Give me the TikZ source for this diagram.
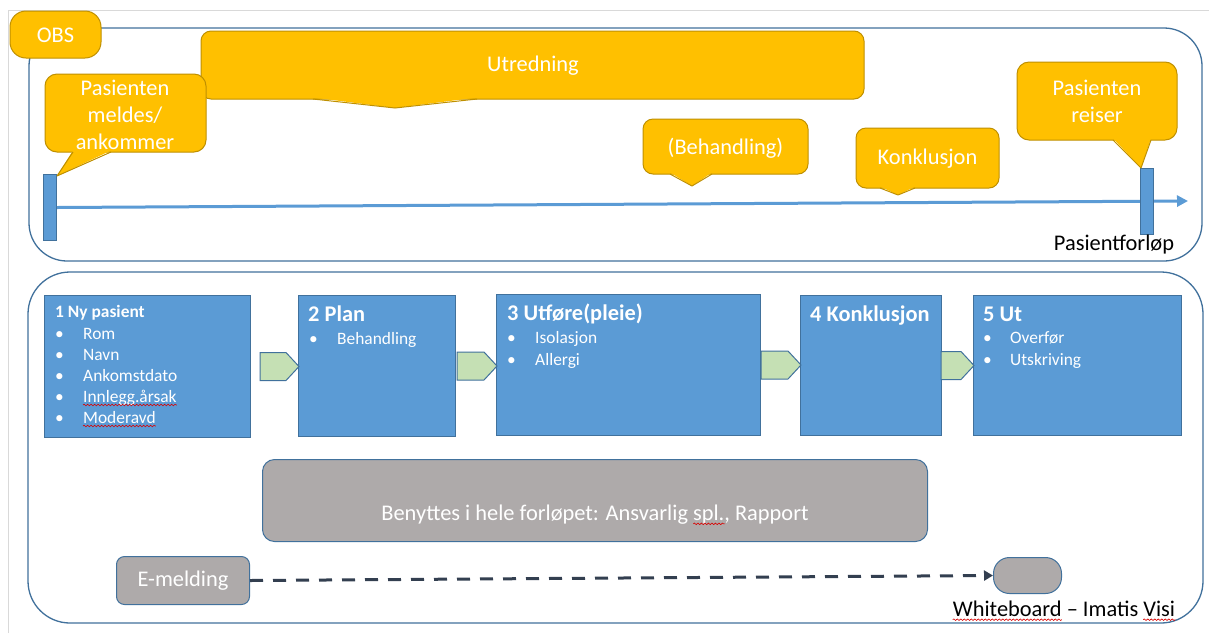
\documentclass[tikz,border=0pt]{standalone}
\usepackage{fontspec}
\setmainfont{Carlito}
\usetikzlibrary{arrows.meta,decorations.pathmorphing,calc}

\definecolor{gold}{HTML}{FFC000}
\definecolor{goldline}{HTML}{BF9000}
\definecolor{stepblue}{HTML}{5B9BD5}
\definecolor{stepline}{HTML}{41719C}
\definecolor{flowgreen}{HTML}{C5E0B4}
\definecolor{panelgray}{HTML}{AEAAAA}
\definecolor{darknavy}{HTML}{333F50}
\definecolor{framegray}{HTML}{D9D9D9}

\newcommand\bigtext{\fontsize{22.4}{27}\selectfont}
\newcommand\smalltext{\fontsize{17.4}{21}\selectfont}

% speech balloon: box corners (x1,y1)-(x2,y2), pointer base from bl to br on the
% bottom edge, pointer tip at (tx,ty)
\newcommand\balloon[9][10pt]{%
  \draw[balloon, rounded corners=#1] (#2,#3) rectangle (#4,#5);
  \fill[gold] (#6,#5-1.5) -- (#7,#5-1.5) -- (#8,#9) -- cycle;
  \draw[balloon edge] (#6,#5) -- (#8,#9) -- (#7,#5);
}

% block arrow between two process steps
\newcommand\flowarrow[3]{%
  \draw[flowarrow] let \p1=(#1.east), \p2=(#2.west) in
    (\x1+#3,\y1+14pt) -- (\x2-12pt,\y1+14pt) -- (\x2+1pt,\y1) --
    (\x2-12pt,\y1-14pt) -- (\x1+#3,\y1-14pt) -- cycle;
}

\begin{document}
\begin{tikzpicture}[x=1pt,y=-1pt,
  panel/.style={draw=stepline, line width=1.3pt, rounded corners=38pt},
  balloon/.style={fill=gold, draw=goldline, line width=1pt},
  balloon edge/.style={draw=goldline, line width=1pt, line join=round},
  balloontext/.style={text=white, font=\bigtext, align=center, inner sep=0pt},
  stepbox/.style={fill=stepblue, draw=stepline, line width=1pt, inner sep=0pt, anchor=north west},
  steptitle/.style={anchor=base west, inner sep=0pt, text=white, font=\bigtext\bfseries},
  smalltitle/.style={anchor=base west, inner sep=0pt, text=white, font=\smalltext\bfseries},
  stepitem/.style={anchor=base west, inner sep=0pt, text=white, font=\smalltext},
  flowarrow/.style={fill=flowgreen, draw=stepline, line width=1pt, line join=miter},
  graybox/.style={fill=panelgray, draw=stepline, line width=1pt, inner sep=0pt, anchor=north west},
  graytext/.style={text=white, font=\bigtext, inner sep=0pt},
  blacktext/.style={text=black, font=\bigtext, inner sep=0pt},
  ghost/.style={anchor=base west, inner sep=0pt, font=\bigtext},
  timeline/.style={draw=stepblue, line width=3pt, -{Triangle[length=11pt,width=11pt]}},
  dashline/.style={draw=darknavy, line width=3pt, dash pattern=on 13pt off 10pt,
    -{Triangle[length=9pt,width=10pt]}},
  squiggle/.style={draw=red!85!black, line width=0.6pt, decorate,
    decoration={snake, amplitude=0.8pt, segment length=3.5pt}}]

\useasboundingbox (0,0) rectangle (1209,633);
\fill[white] (0,0) rectangle (1209,633);
\draw[framegray, line width=1pt] (8,633) -- (8,10) -- (1209,10);

% ---------- patient timeline ----------
\draw[panel] (29,28) rectangle (1202,261);

\node[stepbox, minimum width=13pt, minimum height=66pt] (barL) at (43,174) {};
\coordinate (tlend) at (1188,201);
\draw[timeline] (barL.east) -- (tlend);
\node[stepbox, minimum width=13pt, minimum height=66pt] (barR) at (1140,168) {};

\draw[balloon, rounded corners=16pt] (10,11) rectangle (101,58);
\node[balloontext] (obs) at (55.5,35) {OBS};

\balloon{201}{31}{864}{99}{313}{477}{395}{108}
\node[balloontext] (utr) at (533,66) {Utredning};

\balloon[12pt]{45}{74}{206}{152}{73}{111}{57}{176}
\node[balloontext] (inn) at (125,115) {Pasienten\\meldes/\\ankommer};

\balloon[12pt]{1017}{62}{1177}{140}{1113}{1151}{1141}{168}
\node[balloontext] (ut) at (1097,101.5) {Pasienten\\reiser};

\balloon{643}{119}{808}{174}{670}{712}{692}{186}
\node[balloontext] (beh) at (725.5,148) {(Behandling)};

\balloon{856}{128}{999}{188}{880}{915}{898}{195}
\node[balloontext] (kon) at (927.5,159) {Konklusjon};

\node[blacktext] (forlop) at (1114,245) {Pasientforløp};

% ---------- process steps ----------
\draw[panel, rounded corners=42pt] (28,272) rectangle (1203,623);

\node[stepbox, minimum width=206pt, minimum height=142pt] (s1) at (44,295) {};
\node[stepbox, minimum width=157pt, minimum height=141pt] (s2) at (298,295) {};
\node[stepbox, minimum width=264pt, minimum height=141pt] (s3) at (496,294) {};
\node[stepbox, minimum width=141pt, minimum height=140pt] (s4) at (800,295) {};
\node[stepbox, minimum width=208pt, minimum height=140pt] (s5) at (973,295) {};

\flowarrow{s1}{s2}{9pt}
\flowarrow{s2}{s3}{1pt}
\flowarrow{s3}{s4}{0pt}
\flowarrow{s4}{s5}{-1pt}

% step 1
\node[smalltitle] (t1) at (55,317) {1 Ny pasient};
\node[stepitem] (b1a) at (55,339) {•};
\node[stepitem] (i1a) at (83,339) {Rom};
\node[stepitem] (b1b) at (55,360) {•};
\node[stepitem] (i1b) at (83,360) {Navn};
\node[stepitem] (b1c) at (55,381) {•};
\node[stepitem] (i1c) at (83,381) {Ankomstdato};
\node[stepitem] (b1d) at (55,402) {•};
\node[stepitem] (i1d) at (83,402) {Innlegg.årsak};
\node[stepitem] (b1e) at (55,423) {•};
\node[stepitem] (i1e) at (83,423) {Moderavd};
\draw[squiggle] ([yshift=-3pt]i1d.base west) -- ([yshift=-3pt]i1d.base east);
\draw[squiggle] ([yshift=-3pt]i1e.base west) -- ([yshift=-3pt]i1e.base east);

% step 2
\node[steptitle] (t2) at (308,321) {2 Plan};
\node[stepitem] (b2a) at (309,344) {•};
\node[stepitem] (i2a) at (337,344) {Behandling};

% step 3
\node[steptitle] (t3) at (507,320) {3 Utføre(pleie)};
\node[stepitem] (b3a) at (507,343) {•};
\node[stepitem] (i3a) at (535,343) {Isolasjon};
\node[stepitem] (b3b) at (507,365) {•};
\node[stepitem] (i3b) at (535,365) {Allergi};

% step 4
\node[steptitle] (t4) at (810,321) {4 Konklusjon};

% step 5
\node[steptitle] (t5) at (983,321) {5 Ut};
\node[stepitem] (b5a) at (983,343) {•};
\node[stepitem] (i5a) at (1010,343) {Overfør};
\node[stepitem] (b5b) at (983,365) {•};
\node[stepitem] (i5b) at (1010,365) {Utskriving};

% shared tools
\node[graybox, rounded corners=12pt, minimum width=665pt, minimum height=82pt] (shared) at (262,459) {};
\node[graytext] (sharedtxt) at (595,515) {Benyttes i hele forløpet: Ansvarlig spl., Rapport};
\node[ghost] (sharedpre) at (sharedtxt.base west) {\phantom{Benyttes i hele forløpet: Ansvarlig}\ \mbox{}};
\node[ghost] (sharedspl) at (sharedpre.base east) {\phantom{spl.}};
\draw[squiggle] ([yshift=-3pt]sharedspl.base west) -- ([yshift=-3pt]sharedspl.base east);

% e-message to whiteboard
\node[graybox, rounded corners=8pt, minimum width=133pt, minimum height=48pt] (email) at (116,556) {};
\node[graytext] (emailtxt) at (email.center) {E-melding};
\node[graybox, rounded corners=16pt, minimum width=68pt, minimum height=36pt] (wboard) at (993,557) {};
\draw[dashline] (email.east) -- (wboard.west);

\node[blacktext] (wbtxt) at (1064,609) {Whiteboard – Imatis Visi};
\node[ghost] (wbw) at (wbtxt.base west) {\phantom{Whiteboard}};
\node[ghost, anchor=base east] (wbv) at (wbtxt.base east) {\phantom{Visi}};
\draw[squiggle] ([yshift=-3pt]wbw.base west) -- ([yshift=-3pt]wbw.base east);
\draw[squiggle] ([yshift=-3pt]wbv.base west) -- ([yshift=-3pt]wbv.base east);
\end{tikzpicture}
\end{document}
